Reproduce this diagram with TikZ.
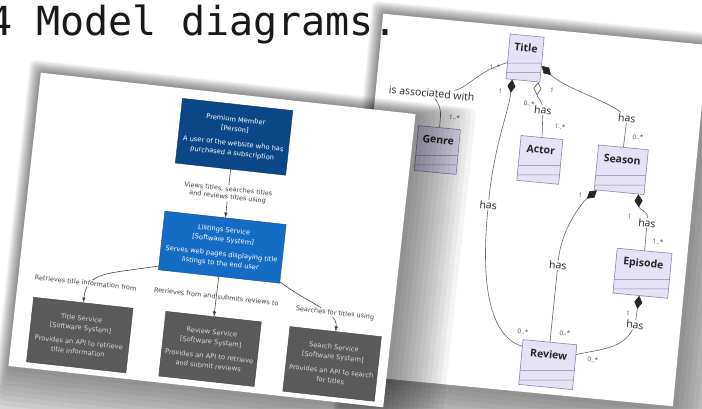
\documentclass[tikz,border=0pt]{standalone}
\usepackage{fontspec}
\usetikzlibrary{arrows.meta}
\newfontfamily\headfont{DejaVu Sans Mono}
\newfontfamily\cfourfont{DejaVu Sans}
\newfontfamily\umlfont{Open Sans}
\definecolor{personblue}{RGB}{11,71,135}
\definecolor{systemblue}{RGB}{20,108,196}
\definecolor{extgrey}{RGB}{90,90,90}
\definecolor{umlfill}{RGB}{229,226,246}
\definecolor{umlborder}{RGB}{138,130,178}
\definecolor{umlgrey}{RGB}{100,100,100}
\definecolor{cfourline}{RGB}{70,70,70}
\def\sys{\\{}[Software System]\\[5pt]}
\tikzset{
  cfourbox/.style={draw=#1!70!black,fill=#1,text=white,align=center,minimum height=65pt,inner sep=2pt,font=\cfourfont\fontsize{6.7}{9.6}\selectfont},
  cfourlbl/.style={fill=white,inner sep=1pt,align=center,text=black!75,font=\cfourfont\fontsize{6.5}{7.8}\selectfont},
  cfourarrow/.style={draw=cfourline,line width=0.6pt,->},
  umlclass/.style={draw=umlborder,fill=umlfill,line width=0.6pt,minimum height=45pt,inner sep=0pt,
    text height=8pt,text depth=21pt,text=black!85,font=\umlfont\bfseries\fontsize{10.5}{12}\selectfont,
    path picture={\draw[umlborder,line width=0.5pt]
      ([yshift=19pt]path picture bounding box.south west) -- ([yshift=19pt]path picture bounding box.south east)
      ([yshift=9.5pt]path picture bounding box.south west) -- ([yshift=9.5pt]path picture bounding box.south east);}},
  umlline/.style={draw=umlgrey,line width=0.6pt},
  umllbl/.style={fill=white,inner sep=0.8pt,text=black!85,font=\umlfont\fontsize{10.5}{12}\selectfont},
  mult/.style={inner sep=0pt,text=black!70,font=\umlfont\fontsize{6.5}{8}\selectfont},
  composition/.style={umlline,arrows={Diamond[length=13pt,width=8pt,color=black!85]-}},
  aggregation/.style={umlline,arrows={Diamond[open,fill=white,length=13pt,width=8pt,color=black!70]-}}
}
\begin{document}
\begin{tikzpicture}[x=1pt,y=-1pt,>={Latex[length=5pt,width=3.6pt]}]
  \path[use as bounding box] (0,0) rectangle (702,408);
  \clip (0,0) rectangle (702,408);
  \fill[white] (0,0) rectangle (702,408);

  % class diagram card
  \begin{scope}[shift={(528,210)},rotate=-5.5,transform shape]
    \foreach \s in {1,...,12}
      \fill[black,opacity=0.045,rounded corners=6pt] ({-163-\s},{-181.5-\s}) rectangle ({163+5*\s},{181.5+5*\s});
    \fill[white] (-163,-181.5) rectangle (163,181.5);

    \draw (-17.5,-151) node[umlclass,minimum width=34pt] (title) {Title};
    \draw (-96,-51) node[umlclass,minimum width=42pt] (genre) {Genre};
    \draw (7,-51) node[umlclass,minimum width=42pt] (actor) {Actor};
    \draw (89,-49) node[umlclass,minimum width=50pt] (season) {Season};
    \draw (120,52) node[umlclass,minimum width=55pt] (episode) {Episode};
    \draw (34.5,152) node[umlclass,minimum width=54pt] (review) {Review};

    \draw (-46.5,-139) node[mult] (m1) {1..*};
    \draw (-82,-85) node[mult] (m2) {1..*};
    \draw (-39,-115) node[mult] (m3) {1};
    \draw (-9,-106) node[mult] (m4) {0..*};
    \draw (12.4,-121.7) node[mult] (m5) {1};
    \draw (24,-86) node[mult] (m6) {1..*};
    \draw (6.7,122) node[mult] (m7) {0..*};
    \draw (102.5,-83) node[mult] (m8) {0..*};
    \draw (50.4,-20) node[mult] (m9) {1};
    \draw (48.6,119) node[mult] (m10) {0..*};
    \draw (102,-3) node[mult] (m11) {1};
    \draw (132.5,19.4) node[mult] (m12) {1..*};
    \draw (109.4,93) node[mult] (m13) {1};
    \draw (79,143) node[mult] (m14) {0..*};

    \draw (-107,-107) node[umllbl] (assoc) {is associated with};
    \draw (5.3,-101) node[umllbl] (hasB) {has};
    \draw (-40,-1) node[umllbl] (hasA) {has};
    \draw (89.7,-101) node[umllbl] (hasC) {has};
    \draw (35,52) node[umllbl] (hasD) {has};
    \draw (119.7,1.5) node[umllbl] (hasE) {has};
    \draw (117.5,104) node[umllbl] (hasF) {has};

    \draw[umlline] (title.200) .. controls +(-30,12) and +(35,-8) .. (assoc)
      .. controls +(12,15) and +(0,-12) .. (genre.north);
    \draw[aggregation] ([xshift=-2pt]title.south east) .. controls +(0,14) and +(-2,-8) .. (hasB);
    \draw[umlline] (hasB) -- (actor.north);
    \draw[composition] ([xshift=6.5pt]title.south west) .. controls +(0,30) and +(0,-60) .. (hasA);
    \draw[umlline] (hasA) .. controls +(0,100) and +(-25,-5) .. (review.150);
    \draw[composition] (title.340) .. controls +(25,20) and +(-20,-15) .. (hasC);
    \draw[umlline] (hasC) -- (season.north);
    \draw[composition] ([xshift=3pt]season.south west) .. controls +(-15,15) and +(0,-35) .. (hasD);
    \draw[umlline] (hasD) -- (review.north);
    \draw[composition] ([xshift=-6pt]season.south east) .. controls +(2,15) and +(0,-12) .. (hasE);
    \draw[umlline] (hasE) -- (episode.north);
    \draw[composition] ([xshift=-1pt]episode.south) -- (hasF);
    \draw[umlline] (hasF) .. controls +(-10,25) and +(25,-8) .. (review.25);
  \end{scope}

  % context diagram card
  \begin{scope}[shift={(212,240)},rotate=-6.3,transform shape]
    \foreach \s in {1,...,12}
      \fill[black,opacity=0.045,rounded corners=6pt] ({-188.5-\s},{-147.5-\s}) rectangle ({188.5+5*\s},{147.5+5*\s});
    \fill[white] (-188.5,-147.5) rectangle (188.5,147.5);

    \draw (10.6,-105) node[cfourbox=personblue,minimum width=111pt] (member)
      {Premium Member\\{}[Person]\\[5pt]A user of the website who has\\purchased a subscription};
    \draw (11,6) node[cfourbox=systemblue,minimum width=122pt,minimum height=59pt] (listings)
      {Listings Service\sys Serves web pages displaying title\\listings to the end user};
    \draw (-121,109) node[cfourbox=extgrey,text=white!85!black,minimum width=100pt] (titlesvc)
      {Title Service\sys Provides an API to retrieve\\title information};
    \draw (10,108.5) node[cfourbox=extgrey,text=white!85!black,minimum width=96pt] (reviewsvc)
      {Review Service\sys Provides an API to retrieve\\and submit reviews};
    \draw (133,110) node[cfourbox=extgrey,text=white!85!black,minimum width=92pt] (searchsvc)
      {Search Service\sys Provides an API to search\\for titles};

    \draw[cfourarrow] (member) -- node[cfourlbl] {Views titles, searches titles\\and reviews titles using} (listings);
    \draw[cfourarrow] ([yshift=4pt]listings.south west) .. controls +(-50,13.5) and +(0,-31.5) ..
      node[cfourlbl,pos=0.72,xshift=-5pt] {Retrieves title information from} (titlesvc.north);
    \draw[cfourarrow] (listings) -- node[cfourlbl,fill=none] {Retrieves from and submits reviews to} (reviewsvc);
    \draw[cfourarrow] ([yshift=1.5pt]listings.south east) .. controls +(30,18) and +(0,-20) ..
      node[cfourlbl,pos=0.62,xshift=9pt] {Searches for titles using} (searchsvc.north);
  \end{scope}

  \draw (-11.7,35) node[anchor=base west,inner sep=0pt,text=black!90,font=\headfont\fontsize{40}{42}\selectfont] (heading) {4 Model diagrams.};
\end{tikzpicture}
\end{document}
